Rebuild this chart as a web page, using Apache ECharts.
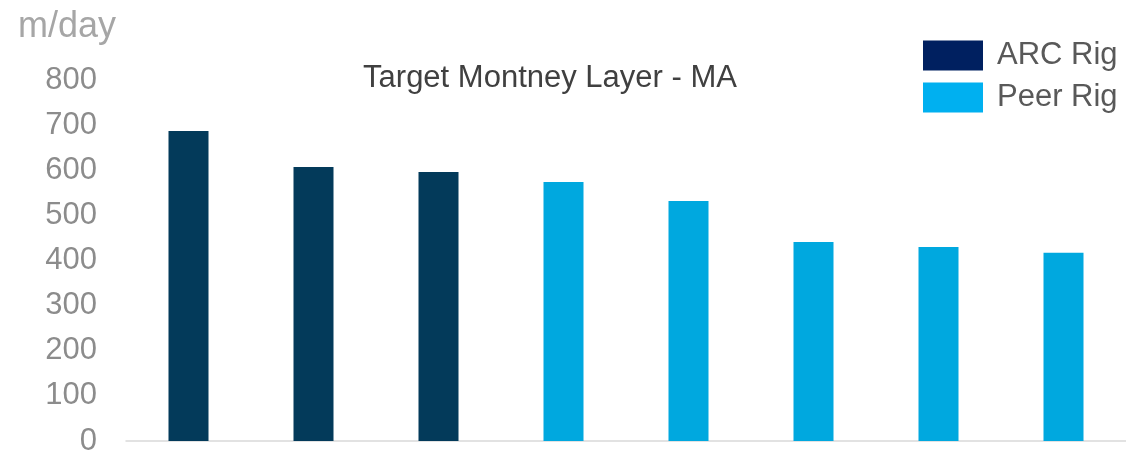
<!DOCTYPE html>
<html>
<head>
<meta charset="utf-8">
<script src="https://cdn.jsdelivr.net/npm/echarts@6/dist/echarts.min.js"></script>
<style>
  html, body { margin: 0; padding: 0; background: #ffffff; }
  #chart { width: 1126px; height: 453px; }
</style>
</head>
<body>
<div id="chart"></div>
<script>
// Drilling rate (m/day) in the target Montney layer
const categories = ['ARC 1', 'ARC 2', 'ARC 3', 'Peer 1', 'Peer 2', 'Peer 3', 'Peer 4', 'Peer 5'];
const arcRig  = [687, 607, 596, '-', '-', '-', '-', '-'];
const peerRig = ['-', '-', '-', 574, 532, 441, 430, 417];
const yTicks = { min: 0, max: 800, interval: 100 };

const FONT = '"Liberation Sans", Arial, sans-serif';

const chart = echarts.init(document.getElementById('chart'), null, { renderer: 'canvas' });
chart.setOption({
  animation: false,
  title: {
    text: 'Target Montney Layer - MA',
    left: 545,
    textAlign: 'center',
    top: 58,
    textStyle: { fontFamily: FONT, fontSize: 31, fontWeight: 'normal', color: '#404040' }
  },
  legend: {
    orient: 'vertical',
    left: 918,
    top: 35,
    itemWidth: 60,
    itemHeight: 30,
    itemGap: 11,
    icon: 'rect',
    textStyle: { fontFamily: FONT, fontSize: 31, lineHeight: 30, color: '#595959', padding: [0, 0, 0, 9] },
    data: [
      { name: 'ARC Rig', itemStyle: { color: '#002060' } },
      { name: 'Peer Rig', itemStyle: { color: '#00b0f0' } }
    ]
  },
  grid: { left: 126, right: 0, top: 80, bottom: 12, outerBoundsMode: 'none', containLabel: false },
  xAxis: {
    type: 'category',
    data: categories,
    axisLine: { lineStyle: { color: '#d9d9d9', width: 1.5 } },
    axisTick: { show: false },
    axisLabel: { show: false }
  },
  yAxis: {
    type: 'value',
    min: yTicks.min,
    max: yTicks.max,
    interval: yTicks.interval,
    name: 'm/day',
    nameLocation: 'end',
    nameGap: 35,
    nameTextStyle: { fontFamily: FONT, fontSize: 36, color: '#a6a6a6', align: 'left', padding: [0, 0, 0, -108] },
    axisLine: { show: false },
    axisTick: { show: false },
    splitLine: { show: false },
    axisLabel: { fontFamily: FONT, fontSize: 31, color: '#8c8c8c', margin: 29 }
  },
  series: [
    {
      name: 'ARC Rig',
      type: 'bar',
      data: arcRig,
      barWidth: 40,
      barGap: '-100%',
      itemStyle: { color: '#033a5a' }
    },
    {
      name: 'Peer Rig',
      type: 'bar',
      data: peerRig,
      barWidth: 40,
      itemStyle: { color: '#00a8df' }
    }
  ]
});
</script>
</body>
</html>
